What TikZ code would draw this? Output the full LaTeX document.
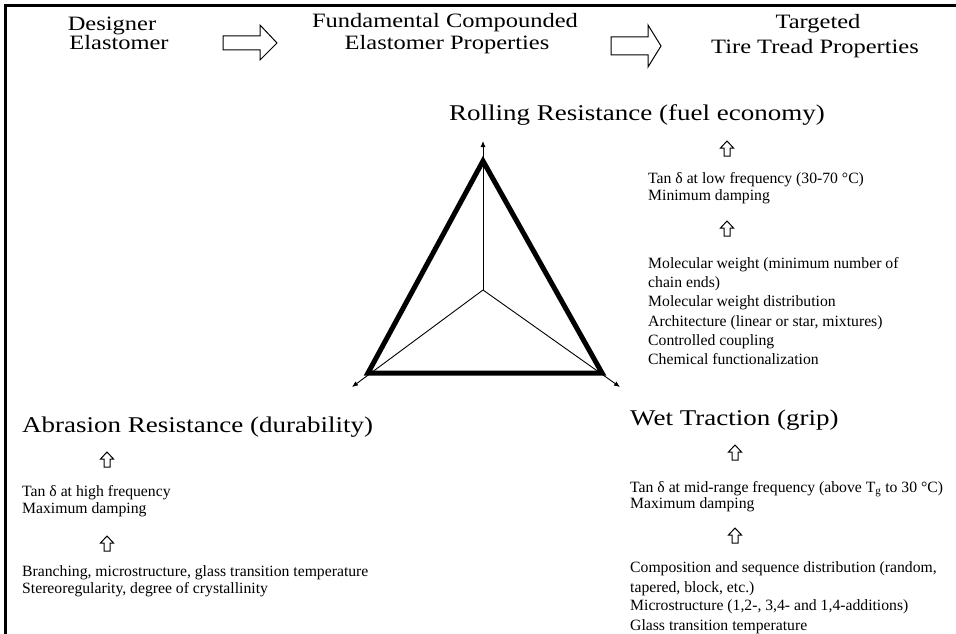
\documentclass[tikz,border=0pt]{standalone}
\usepackage{fontspec}
\setmainfont{Liberation Serif}
\newfontfamily\hdrfont{Liberation Serif}[FakeStretch=1.2]
\usetikzlibrary{arrows.meta}
\begin{document}
\begin{tikzpicture}[x=1pt,y=-1pt,
  hdr/.style={font=\hdrfont\fontsize{20.4}{24}\selectfont, inner sep=0pt, anchor=base},
  ttl/.style={font=\hdrfont\fontsize{22.5}{27}\selectfont, inner sep=0pt, anchor=base west},
  sml/.style={font=\fontsize{15.7}{19}\selectfont, inner sep=0pt, anchor=base west},
  tri/.style={line width=5pt, line join=miter},
  axis/.style={line width=0.9pt, -{Latex[length=6pt,width=5pt]}},
  barrow/.style={draw, line width=1pt, line join=miter},
  frame/.style={line width=2.5pt},
  uparr/.pic={\draw[line width=1pt, line join=miter] (-3,7) -- (-3,-1) -- (-6.5,-1) -- (0,-8) -- (6.5,-1) -- (3,-1) -- (3,7) -- cycle;}
]
\useasboundingbox (0,0) rectangle (956,634);
\fill[white] (0,0) rectangle (956,634);
% frame
\draw[frame] (5.5,634) -- (5.5,5.5) -- (956,5.5);

% headers
\node[hdr] (d1) at (112,31) {Designer};
\node[hdr] (d2) at (119,50) {Elastomer};
\node[hdr] (f1) at (445,28) {Fundamental Compounded};
\node[hdr] (f2) at (447,50) {Elastomer Properties};
\node[hdr] (t1) at (818,29) {Targeted};
\node[hdr] (t2) at (815,54) {Tire Tread Properties};

% header block arrows
\draw[barrow] (223,36) -- (260,36) -- (260,25) -- (277,43) -- (260,60) -- (260,50) -- (223,50) -- cycle;
\draw[barrow] (611,37) -- (648,37) -- (648,25) -- (661,46) -- (648,67) -- (648,55) -- (611,55) -- cycle;

% triangle
\coordinate (c) at (483,290);
\coordinate (tv) at (483,161);
\coordinate (lv) at (368,373);
\coordinate (rv) at (602,373);
\coordinate (tt) at (483,141);
\coordinate (lt) at (352,387);
\coordinate (rt) at (620,387);
\draw[tri] (tv) -- (lv) -- (rv) -- cycle;
\draw[axis] (c) -- (tt);
\draw[axis] (c) -- (lt);
\draw[axis] (c) -- (rt);

% Rolling resistance
\node[ttl] (rr) at (449,120) {Rolling Resistance (fuel economy)};
\pic (rra) at (727,149) {uparr};
\node[sml] (rr1) at (648,183) {Tan δ at low frequency (30-70 °C)};
\node[sml] (rr2) at (648,200) {Minimum damping};
\pic (rrb) at (727,229) {uparr};
\node[sml] (rr3) at (648,268) {Molecular weight (minimum number of};
\node[sml] (rr4) at (648,287) {chain ends)};
\node[sml] (rr5) at (648,306) {Molecular weight distribution};
\node[sml] (rr6) at (648,326) {Architecture (linear or star, mixtures)};
\node[sml] (rr7) at (648,345) {Controlled coupling};
\node[sml] (rr8) at (648,364) {Chemical functionalization};

% Abrasion resistance
\node[ttl] (ab) at (22,432) {Abrasion Resistance (durability)};
\pic (aba) at (107,460) {uparr};
\node[sml] (ab1) at (22,496) {Tan δ at high frequency};
\node[sml] (ab2) at (22,513) {Maximum damping};
\pic (abb) at (107,544) {uparr};
\node[sml] (ab3) at (22,576) {Branching, microstructure, glass transition temperature};
\node[sml] (ab4) at (22,593) {Stereoregularity, degree of crystallinity};

% Wet traction
\node[ttl] (wt) at (630,425) {Wet Traction (grip)};
\pic (wta) at (735,453) {uparr};
\node[sml] (wt1) at (630,492) {Tan δ at mid-range frequency (above T\textsubscript{g} to 30 °C)};
\node[sml] (wt2) at (630,508) {Maximum damping};
\pic (wtb) at (735,536) {uparr};
\node[sml] (wt3) at (630,572) {Composition and sequence distribution (random,};
\node[sml] (wt4) at (630,592) {tapered, block, etc.)};
\node[sml] (wt5) at (630,610) {Microstructure (1,2-, 3,4- and 1,4-additions)};
\node[sml] (wt6) at (630,630) {Glass transition temperature};
\end{tikzpicture}
\end{document}
